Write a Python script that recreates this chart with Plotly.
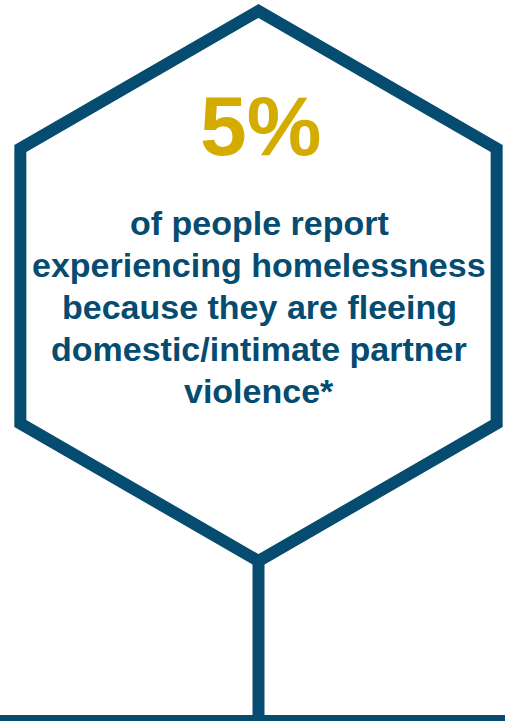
import math

import plotly.graph_objects as go

BLUE = "#054C70"
GOLD = "#D4AC00"

stat_value = "5%"
stat_lines = [
    "of people report",
    "experiencing homelessness",
    "because they are fleeing",
    "domestic/intimate partner",
    "violence*",
]

W, H = 505, 721
HEX_CX, HEX_CY, HEX_R = 258.5, 286, 275
LINE_W = 12


def hexagon_path(cx: float, cy: float, r: float) -> str:
    # pointy-top hexagon, y grows downward
    pts = []
    for k in range(6):
        ang = math.radians(90 - 60 * k)
        pts.append((cx + r * math.cos(ang), cy - r * math.sin(ang)))
    return "M " + " L ".join(f"{x:.2f},{y:.2f}" for x, y in pts) + " Z"


def build_figure() -> go.Figure:
    fig = go.Figure()

    shapes = [
        dict(type="path", path=hexagon_path(HEX_CX, HEX_CY, HEX_R),
             xref="x", yref="y", line=dict(color=BLUE, width=LINE_W)),
        dict(type="line", xref="x", yref="y",
             x0=HEX_CX, x1=HEX_CX, y0=HEX_CY + HEX_R, y1=H + 10,
             line=dict(color=BLUE, width=LINE_W)),
        dict(type="line", xref="x", yref="y",
             x0=-10, x1=W + 10, y0=H, y1=H,
             line=dict(color=BLUE, width=LINE_W)),
    ]

    annotations = [
        dict(text=stat_value, x=260, y=126, xref="x", yref="y",
             showarrow=False, xanchor="center", yanchor="middle",
             font=dict(family="Liberation Sans", size=84, color=GOLD, weight="bold"))
    ]
    for i, line in enumerate(stat_lines):
        annotations.append(
            dict(text=line, x=259, y=223 + 42 * i, xref="x", yref="y",
                 showarrow=False, xanchor="center", yanchor="middle",
                 font=dict(family="Liberation Sans", size=34, color=BLUE, weight="bold"))
        )

    fig.update_layout(
        width=W,
        height=H,
        margin=dict(l=0, r=0, t=0, b=0),
        paper_bgcolor="white",
        plot_bgcolor="white",
        showlegend=False,
        xaxis=dict(range=[0, W], visible=False, fixedrange=True),
        yaxis=dict(range=[H, 0], visible=False, fixedrange=True),
        shapes=shapes,
        annotations=annotations,
    )
    return fig


fig = build_figure()
fig.write_html(
    "out.html",
    config={"displayModeBar": False},
    post_script="document.body.style.margin='0';document.body.style.overflow='hidden';",
)
